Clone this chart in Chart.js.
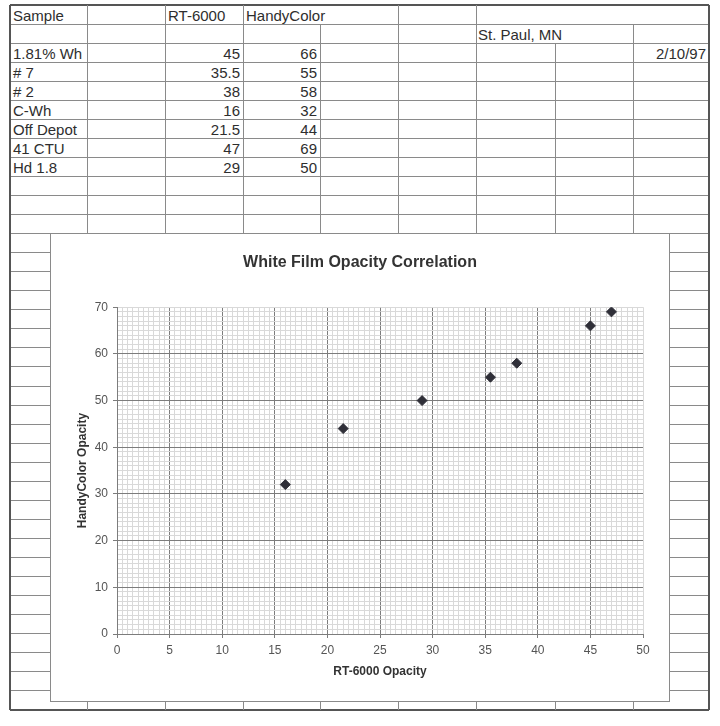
<!DOCTYPE html>
<html>
<head>
<meta charset="utf-8">
<script src="https://cdn.jsdelivr.net/npm/chart.js@4/dist/chart.umd.min.js"></script>
<style>
  html, body { margin: 0; padding: 0; background: #fff; }
  #page { position: relative; width: 720px; height: 726px; background: #fff; overflow: hidden;
          font-family: "Liberation Sans", Arial, sans-serif; color: #2e2e2e; }
  .hl, .vl { position: absolute; background: #8a8a8a; }
  .cell { position: absolute; font-size: 15px; line-height: 19px; white-space: nowrap; }
  #chartBox { position: absolute; left: 50px; top: 233px; width: 620px; height: 469px; background: #fff; }
</style>
</head>
<body>
<div id="page">
  <div id="chartBox"><canvas id="c" width="620" height="469"></canvas></div>
</div>
<script>
// ---- data ----
const samples = ['1.81% Wh', '# 7', '# 2', 'C-Wh', 'Off Depot', '41 CTU', 'Hd 1.8'];
const rt6000 = [45, 35.5, 38, 16, 21.5, 47, 29];
const handyColor = [66, 55, 58, 32, 44, 69, 50];
const headers = ['Sample', 'RT-6000', 'HandyColor'];
const placeText = 'St. Paul, MN';
const dateText = '2/10/97';
const chartTitle = 'White Film Opacity Correlation';
const xTitle = 'RT-6000 Opacity';
const yTitle = 'HandyColor Opacity';

// ---- spreadsheet grid ----
const page = document.getElementById('page');
const colX = [10, 87, 165, 243, 320, 398, 476, 555, 633, 709];
const rowTop = 5, rowH = 19.05, nRows = 37;

function addDiv(cls, style, text) {
  const d = document.createElement('div');
  d.className = cls;
  Object.assign(d.style, style);
  if (text !== undefined) d.textContent = text;
  page.insertBefore(d, document.getElementById('chartBox'));
  return d;
}
for (let i = 0; i <= nRows; i++) {
  const y = rowTop + rowH * i;
  const outer = (i === 0 || i === nRows);
  addDiv('hl', { left: colX[0] + 'px', top: (y - (outer ? 1 : 0.5)) + 'px', width: (colX[9] - colX[0]) + 'px',
                 height: (outer ? 2 : 1) + 'px', background: outer ? '#555' : '#8a8a8a' });
}
// skipped rows per column (merged/overflowing cells)
const skip = { 320: [0], 555: [0, 1], 633: [0] };
colX.forEach((x, ci) => {
  const outer = (ci === 0 || ci === colX.length - 1);
  for (let r = 0; r < nRows; r++) {
    if (skip[x] && skip[x].includes(r)) continue;
    addDiv('vl', { left: (x - (outer ? 1 : 0.5)) + 'px', top: (rowTop + rowH * r) + 'px', width: (outer ? 2 : 1) + 'px',
                   height: (rowH + 0.5) + 'px', background: outer ? '#555' : '#8a8a8a' });
  }
});

function cellText(row, text, opts) {
  const top = rowTop + rowH * row + 1;
  const st = { top: top + 'px' };
  if (opts.left !== undefined) st.left = opts.left + 'px';
  if (opts.right !== undefined) { st.left = (opts.right - 200) + 'px'; st.width = '200px'; st.textAlign = 'right'; }
  addDiv('cell', st, text);
}
cellText(0, headers[0], { left: 13 });
cellText(0, headers[1], { left: 168 });
cellText(0, headers[2], { left: 246 });
cellText(1, placeText, { left: 478 });
cellText(2, dateText, { right: 706 });
samples.forEach((s, i) => {
  cellText(2 + i, s, { left: 13 });
  cellText(2 + i, String(rt6000[i]), { right: 240 });
  cellText(2 + i, String(handyColor[i]), { right: 317 });
});

// ---- chart ----
const FONT = '"Liberation Sans", Arial, sans-serif';
const boxBorder = {
  id: 'boxBorder',
  afterDraw(chart) {
    const ctx = chart.ctx;
    ctx.save();
    ctx.strokeStyle = '#8a8a8a';
    ctx.lineWidth = 1;
    ctx.strokeRect(0.5, 0.5, chart.width - 1, chart.height - 1);
    ctx.restore();
  }
};

new Chart(document.getElementById('c'), {
  type: 'scatter',
  data: {
    datasets: [{
      label: 'HandyColor vs RT-6000',
      data: rt6000.map((x, i) => ({ x: x, y: handyColor[i] })),
      pointStyle: 'rectRot',
      pointRadius: 5,
      pointHoverRadius: 5,
      backgroundColor: '#2f2f38',
      borderColor: '#2f2f38',
      borderWidth: 1
    }]
  },
  options: {
    responsive: false,
    animation: false,
    layout: { padding: 0 },
    plugins: {
      legend: { display: false },
      tooltip: { enabled: false },
      title: {
        display: true, text: chartTitle, color: '#333',
        font: { family: FONT, size: 16, weight: 'bold' },
        padding: { top: 20, bottom: 35 }
      }
    },
    scales: {
      x: {
        type: 'linear', min: 0, max: 50,
        afterFit(scale) { scale.height = 68; },
        ticks: {
          stepSize: 0.5, autoSkip: false, minRotation: 0, maxRotation: 0,
          padding: 5, color: '#555', font: { family: FONT, size: 12 },
          callback: v => (Math.abs(v % 5) < 1e-9 ? String(v) : '')
        },
        grid: {
          color: ctx => {
            const v = ctx.tick ? ctx.tick.value : 0;
            return (Math.abs(v % 5) < 1e-9 && v !== 50) ? '#7c7c7c' : '#d9d9d9';
          },
          tickColor: ctx => {
            const v = ctx.tick ? ctx.tick.value : 0;
            return Math.abs(v % 5) < 1e-9 ? '#7c7c7c' : 'rgba(0,0,0,0)';
          },
          tickLength: 4, lineWidth: 1
        },
        border: { display: true, color: '#7c7c7c' },
        title: {
          display: true, text: xTitle, color: '#333',
          font: { family: FONT, size: 12, weight: 'bold' },
          padding: { top: 0, bottom: 23 }
        }
      },
      y: {
        type: 'linear', min: 0, max: 70,
        afterFit(scale) { scale.width = 67; },
        ticks: {
          stepSize: 1, autoSkip: false,
          padding: 5, color: '#555', font: { family: FONT, size: 12 },
          callback: v => (Math.abs(v % 10) < 1e-9 ? String(v) : '')
        },
        grid: {
          color: ctx => {
            const v = ctx.tick ? ctx.tick.value : 0;
            return (Math.abs(v % 10) < 1e-9 && v !== 70) ? '#7c7c7c' : '#d9d9d9';
          },
          tickColor: ctx => {
            const v = ctx.tick ? ctx.tick.value : 0;
            return Math.abs(v % 10) < 1e-9 ? '#7c7c7c' : 'rgba(0,0,0,0)';
          },
          tickLength: 4, lineWidth: 1
        },
        border: { display: true, color: '#7c7c7c' },
        title: {
          display: true, text: yTitle, color: '#333',
          font: { family: FONT, size: 12, weight: 'bold' },
          padding: { top: 25, bottom: 0 }
        }
      },
      yRight: {
        type: 'linear', position: 'right', min: 0, max: 70,
        afterFit(scale) { scale.width = 27; },
        ticks: { display: false },
        grid: { display: false, drawTicks: false },
        border: { display: false }
      }
    }
  },
  plugins: [boxBorder]
});
</script>
</body>
</html>
